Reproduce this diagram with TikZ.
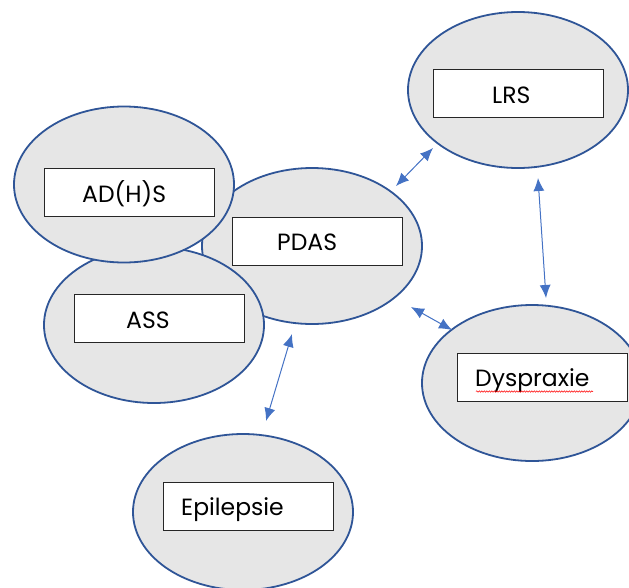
\documentclass[tikz,border=0pt]{standalone}
\usepackage{fontspec}
\setmainfont{Poppins}
\usetikzlibrary{shapes.geometric,arrows.meta,decorations.pathmorphing}
\definecolor{ellfill}{HTML}{E6E6E6}
\definecolor{ellline}{HTML}{2F5597}
\definecolor{arrcol}{HTML}{4472C4}
\tikzset{
  bubble/.style={ellipse,draw=ellline,fill=ellfill,line width=1.8pt,inner sep=0pt,minimum width=220pt,minimum height=156pt},
  labelbox/.style={draw=black!85,fill=white,line width=1pt,inner sep=0pt,minimum width=170pt,minimum height=48pt},
  labeltext/.style={font=\fontsize{23.5}{28}\selectfont,inner sep=0pt,anchor=base west},
  link/.style={draw=arrcol,line width=1pt,{Latex[length=13pt,width=11pt]}-{Latex[length=13pt,width=11pt]}}
}
\begin{document}
\begin{tikzpicture}[x=1pt,y=-1pt]
\useasboundingbox (0,0) rectangle (629,587);
\clip (0,0) rectangle (629,587);
% LRS
\node[bubble] (eLRS) at (518,90) {};
\node[labelbox] (bLRS) at (518,93) {};
\node[labeltext] (tLRS) at (492,103) {LRS};
% PDAS
\node[bubble] (ePDAS) at (312,246) {};
\node[labelbox] (bPDAS) at (317.5,241) {};
\node[labeltext] (tPDAS) at (277,250) {PDAS};
% ASS
\node[bubble] (eASS) at (154,325) {};
\node[labelbox] (bASS) at (159,318) {};
\node[labeltext] (tASS) at (126,328) {ASS};
% ADHS
\node[bubble] (eADHS) at (124,184.5) {};
\node[labelbox] (bADHS) at (129.5,192.5) {};
\node[labeltext] (tADHS) at (82,202) {AD(H)S};
% Dyspraxie
\node[bubble] (eDys) at (532,383) {};
\node[labelbox] (bDys) at (542,377.5) {};
\node[labeltext] (tDys) at (475,386) {Dyspraxie};
\coordinate (wavyA) at (476,391.5);
\coordinate (wavyB) at (593,391.5);
\draw[red,line width=0.5pt,decorate,decoration={snake,amplitude=0.7pt,segment length=2.5pt}] (wavyA) -- (wavyB);
% Epilepsie
\node[bubble] (eEpi) at (243,512) {};
\node[labelbox] (bEpi) at (248.5,506) {};
\node[labeltext] (tEpi) at (181,515) {Epilepsie};
% connectors
\coordinate (a1) at (396,186);
\coordinate (a2) at (433,148);
\coordinate (b1) at (538,178);
\coordinate (b2) at (546,298);
\coordinate (c1) at (411,307);
\coordinate (c2) at (452,330);
\coordinate (d1) at (292,334);
\coordinate (d2) at (266,421);
\draw[link] (a1) -- (a2);
\draw[link] (b1) -- (b2);
\draw[link] (c1) -- (c2);
\draw[link] (d1) -- (d2);
\end{tikzpicture}
\end{document}
